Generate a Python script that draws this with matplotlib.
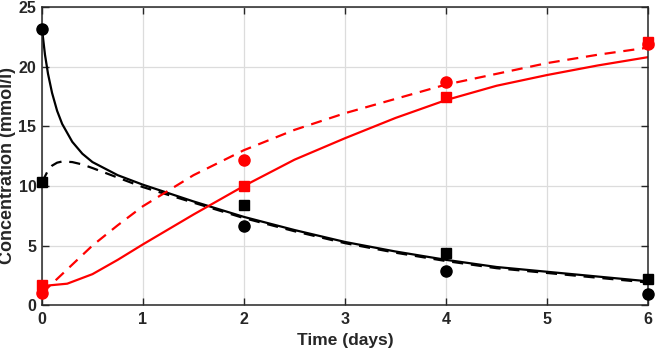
import matplotlib
matplotlib.use("Agg")
import matplotlib.pyplot as plt

plt.rcParams['font.family'] = ['Liberation Sans', 'DejaVu Sans']
plt.rcParams['font.weight'] = 'bold'

# Measured data
t_obs = [0, 2, 4, 6]
black_circ = [23.2, 6.6, 2.9, 0.9]
black_sq = [10.3, 8.4, 4.4, 2.2]
red_circ = [1.0, 12.2, 18.7, 21.9]
red_sq = [1.7, 10.0, 17.5, 22.1]

# Model curves
t_blk = [0, 0.03, 0.06, 0.1, 0.15, 0.2, 0.3, 0.4, 0.5, 0.75, 1, 1.5, 2, 2.5, 3, 3.5, 4, 4.5, 5, 5.5, 6]
black_solid = [23.2, 21.0, 19.4, 17.8, 16.3, 15.2, 13.7, 12.7, 12.0, 10.9, 10.1, 8.7, 7.4, 6.3, 5.3, 4.5, 3.8, 3.2, 2.8, 2.4, 2.0]
black_dash = [10.3, 10.8, 11.3, 11.7, 11.95, 12.05, 12.0, 11.8, 11.5, 10.7, 9.9, 8.6, 7.3, 6.2, 5.2, 4.4, 3.7, 3.1, 2.7, 2.3, 1.9]

t_red = [0, 0.25, 0.5, 0.75, 1, 1.5, 2, 2.5, 3, 3.5, 4, 4.5, 5, 5.5, 6]
red_solid = [1.6, 1.8, 2.6, 3.8, 5.1, 7.6, 10.0, 12.2, 14.0, 15.7, 17.2, 18.4, 19.3, 20.1, 20.8]
red_dash = [1.0, 3.0, 5.0, 6.7, 8.3, 10.9, 13.0, 14.7, 16.1, 17.3, 18.5, 19.4, 20.3, 21.0, 21.6]

fig = plt.figure(figsize=(6.66, 3.54), dpi=100)
ax = fig.add_axes([0.063, 0.138, 0.91, 0.842])

lw = 1.6
ax.plot(t_blk, black_solid, '-', color='black', lw=lw)
ax.plot(t_blk, black_dash, '--', color='black', lw=lw, dashes=(5, 3.5))
ax.plot(t_red, red_solid, '-', color='red', lw=lw)
ax.plot(t_red, red_dash, '--', color='red', lw=lw, dashes=(5, 3.5))

ms = 8
ax.plot(t_obs, black_circ, 'o', color='black', ms=ms, clip_on=False, zorder=5)
ax.plot(t_obs, black_sq, 's', color='black', ms=ms - 1.5, clip_on=False, zorder=5)
ax.plot(t_obs, red_circ, 'o', color='red', ms=ms, clip_on=False, zorder=5)
ax.plot(t_obs, red_sq, 's', color='red', ms=ms - 1.5, clip_on=False, zorder=5)

ax.set_xlim(0, 6)
ax.set_ylim(0, 25)
ax.set_xticks([0, 1, 2, 3, 4, 5, 6])
ax.set_yticks([0, 5, 10, 15, 20, 25])
ax.grid(True, color='#dcdcdc', lw=0.9)
ax.set_axisbelow(True)
ax.tick_params(direction='in', top=True, right=True, labelsize=11.5, length=5, width=1,
               colors='#262626')
ax.tick_params(axis='x', pad=5)
ax.tick_params(axis='y', pad=4)
for lab in ax.get_xticklabels() + ax.get_yticklabels():
    lab.set_fontweight('bold')
for s in ax.spines.values():
    s.set_color('#262626')
    s.set_linewidth(1.1)

ax.set_xlabel('Time (days)', fontsize=12.5, fontweight='bold', color='#262626', labelpad=4)
ax.set_ylabel('Concentration (mmol/l)', fontsize=13, fontweight='bold', color='#262626')
ax.yaxis.set_label_coords(-0.043, 0.47)

fig.savefig('out.png', dpi=100)
